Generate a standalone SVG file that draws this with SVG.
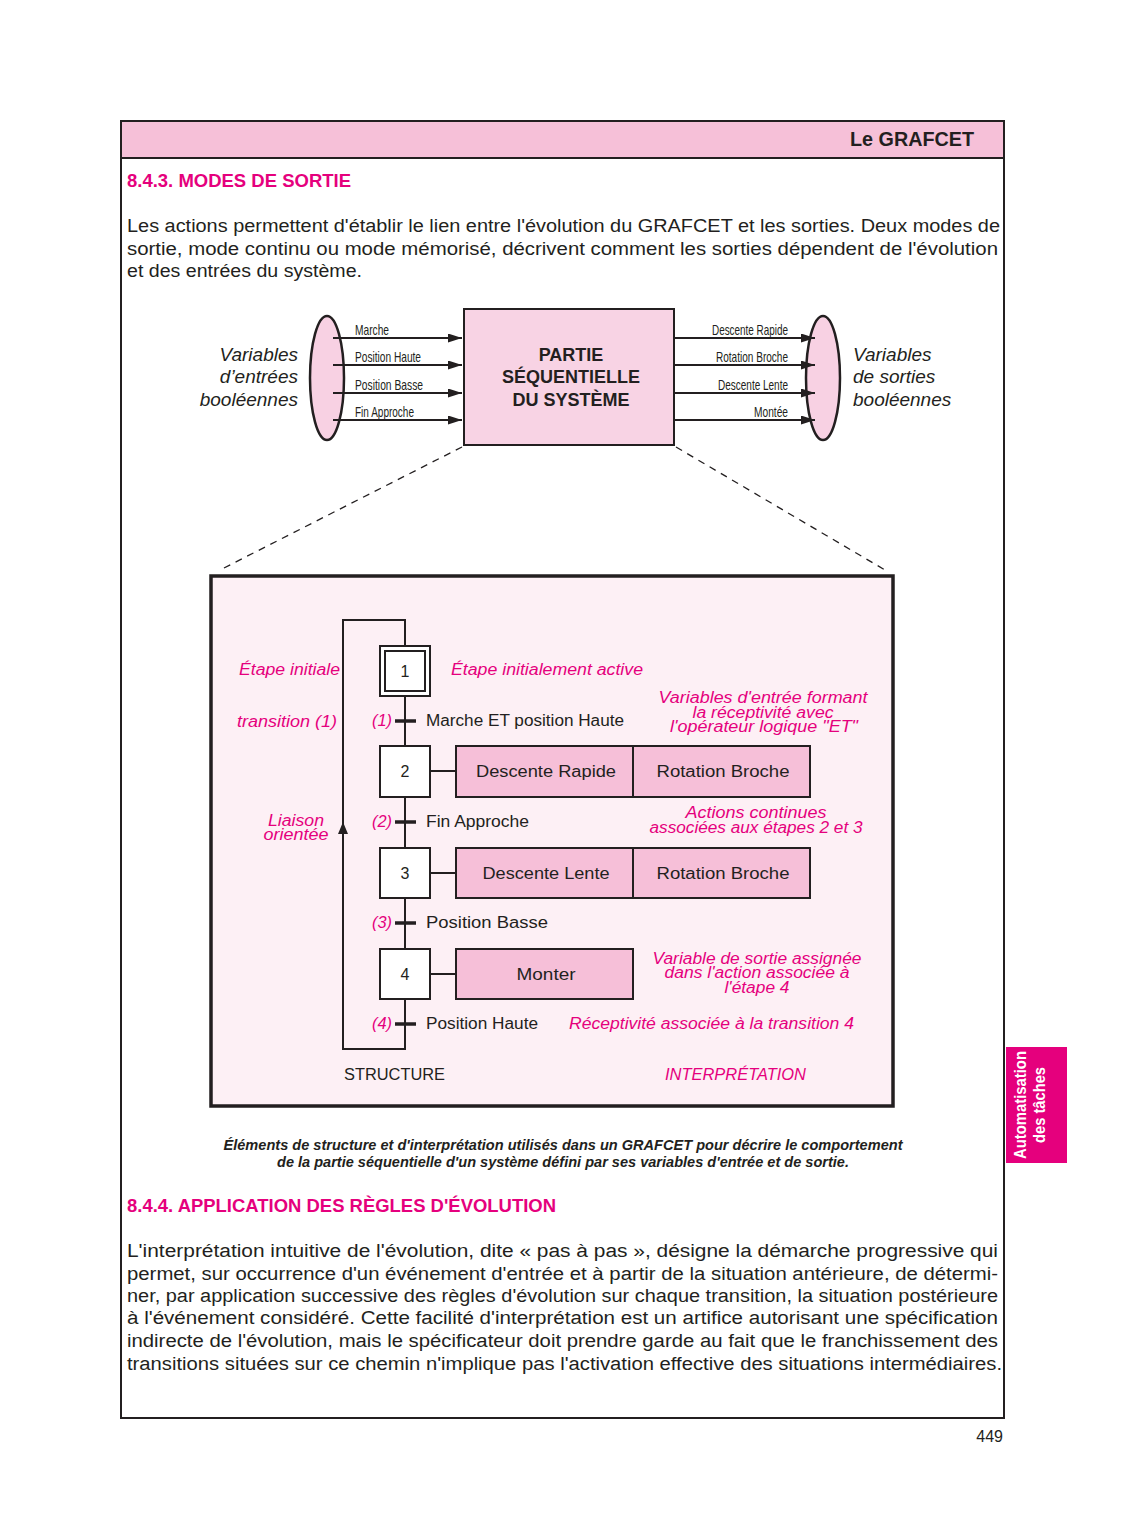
<svg xmlns="http://www.w3.org/2000/svg" width="1125" height="1539" viewBox="0 0 1125 1539">
<style>
text{font-family:"Liberation Sans",Arial,sans-serif;fill:#231f20}
.body{font-size:18px}
.mag{fill:#e5007d}
.h{font-weight:bold;font-size:18px;fill:#e5007d}
.it{font-style:italic}
.cond{font-size:14.5px}
.g{font-size:16px}
.gi{font-size:16px;font-style:italic;fill:#e5007d}
.step{fill:#fff;stroke:#231f20;stroke-width:2}
.act{fill:#f6bfd8;stroke:#231f20;stroke-width:2}
.ln{stroke:#231f20;stroke-width:2;fill:none}
.tr{stroke:#231f20;stroke-width:3.5}
.arr{stroke:#231f20;stroke-width:2;marker-end:url(#ah)}
</style>
<defs>
<marker id="ah" markerWidth="14" markerHeight="9" refX="14" refY="4.5" orient="auto" markerUnits="userSpaceOnUse">
<path d="M0,0 L14,4.5 L0,9 z" fill="#231f20"/>
</marker>
</defs>
<rect width="1125" height="1539" fill="#fff"/>
<!-- page frame -->
<g id="page">
<rect x="121" y="121" width="883" height="37" fill="#f6c0d8"/>
<rect x="121" y="121" width="883" height="1297" fill="none" stroke="#231f20" stroke-width="2"/>
<line x1="121" y1="158" x2="1004" y2="158" stroke="#231f20" stroke-width="2"/>
<text x="974" y="146" text-anchor="end" font-weight="bold" font-size="20" textLength="124" lengthAdjust="spacingAndGlyphs">Le GRAFCET</text>
<text class="h" x="127" y="187" textLength="224" lengthAdjust="spacingAndGlyphs">8.4.3. MODES DE SORTIE</text>
<text class="body" x="127" y="232" textLength="873" lengthAdjust="spacingAndGlyphs">Les actions permettent d'établir le lien entre l'évolution du GRAFCET et les sorties. Deux modes de</text>
<text class="body" x="127" y="255" textLength="871" lengthAdjust="spacingAndGlyphs">sortie, mode continu ou mode mémorisé, décrivent comment les sorties dépendent de l'évolution</text>
<text class="body" x="127" y="277" textLength="235" lengthAdjust="spacingAndGlyphs">et des entrées du système.</text>
</g>
<!-- top block diagram -->
<g id="inputs">
<ellipse cx="327" cy="378" rx="17" ry="62" fill="#f8d1e3" stroke="#231f20" stroke-width="2.5"/>
<text class="it" x="298" y="361" text-anchor="end" font-size="19">Variables</text>
<text class="it" x="298" y="383" text-anchor="end" font-size="19">d’entrées</text>
<text class="it" x="298" y="406" text-anchor="end" font-size="19">booléennes</text>
</g>
<g id="outputs">
<ellipse cx="823" cy="378" rx="17" ry="62" fill="#f8d1e3" stroke="#231f20" stroke-width="2.5"/>
<text class="it" x="853" y="361" font-size="19">Variables</text>
<text class="it" x="853" y="383" font-size="19">de sorties</text>
<text class="it" x="853" y="406" font-size="19">booléennes</text>
</g>
<g id="partie">
<rect x="464" y="309" width="210" height="136" fill="#f8d3e4" stroke="#231f20" stroke-width="2"/>
<text x="571" y="361" text-anchor="middle" font-weight="bold" font-size="18">PARTIE</text>
<text x="571" y="383" text-anchor="middle" font-weight="bold" font-size="18">SÉQUENTIELLE</text>
<text x="571" y="406" text-anchor="middle" font-weight="bold" font-size="18">DU SYSTÈME</text>
</g>
<g id="io-connectors">
<line class="arr" x1="333" y1="338" x2="462" y2="338"/>
<line class="arr" x1="333" y1="365" x2="462" y2="365"/>
<line class="arr" x1="333" y1="393" x2="462" y2="393"/>
<line class="arr" x1="333" y1="420" x2="462" y2="420"/>
<line class="arr" x1="675" y1="338" x2="815" y2="338"/>
<line class="arr" x1="675" y1="365" x2="815" y2="365"/>
<line class="arr" x1="675" y1="393" x2="815" y2="393"/>
<line class="arr" x1="675" y1="420" x2="815" y2="420"/>
<text class="cond" x="355" y="335" textLength="34" lengthAdjust="spacingAndGlyphs">Marche</text>
<text class="cond" x="355" y="362" textLength="66" lengthAdjust="spacingAndGlyphs">Position Haute</text>
<text class="cond" x="355" y="390" textLength="68" lengthAdjust="spacingAndGlyphs">Position Basse</text>
<text class="cond" x="355" y="417" textLength="59" lengthAdjust="spacingAndGlyphs">Fin Approche</text>
<text class="cond" x="712" y="335" textLength="76" lengthAdjust="spacingAndGlyphs">Descente Rapide</text>
<text class="cond" x="716" y="362" textLength="72" lengthAdjust="spacingAndGlyphs">Rotation Broche</text>
<text class="cond" x="718" y="390" textLength="70" lengthAdjust="spacingAndGlyphs">Descente Lente</text>
<text class="cond" x="754" y="417" textLength="34" lengthAdjust="spacingAndGlyphs">Montée</text>
<line x1="462" y1="447" x2="220" y2="570" stroke="#231f20" stroke-width="1.3" stroke-dasharray="7,6"/>
<line x1="676" y1="447" x2="885" y2="570" stroke="#231f20" stroke-width="1.3" stroke-dasharray="7,6"/>
</g>
<!-- GRAFCET box -->
<g id="grafcet-frame">
<rect x="211" y="576" width="682" height="530" fill="#fdf0f5" stroke="#231f20" stroke-width="3.5"/>
</g>
<g id="grafcet-connectors">
<polyline class="ln" points="405,646 405,620 343,620 343,1049 405,1049 405,999"/>
<path d="M338,834 L343,822 L348,834 z" fill="#231f20"/>
<line class="ln" x1="405" y1="696" x2="405" y2="746"/>
<line class="ln" x1="405" y1="797" x2="405" y2="848"/>
<line class="ln" x1="405" y1="898" x2="405" y2="949"/>
<line class="ln" x1="430" y1="771" x2="456" y2="771"/>
<line class="ln" x1="430" y1="873" x2="456" y2="873"/>
<line class="ln" x1="430" y1="974" x2="456" y2="974"/>
<line class="tr" x1="395" y1="721" x2="416" y2="721"/>
<line class="tr" x1="395" y1="822" x2="416" y2="822"/>
<line class="tr" x1="395" y1="923" x2="416" y2="923"/>
<line class="tr" x1="395" y1="1024" x2="416" y2="1024"/>
</g>
<g id="step1">
<rect class="step" x="380" y="646" width="50" height="50"/>
<rect class="step" x="385" y="651" width="40" height="40"/>
<text class="g" x="405" y="677" text-anchor="middle">1</text>
</g>
<g id="step2">
<rect class="step" x="380" y="746" width="50" height="51"/>
<text class="g" x="405" y="777" text-anchor="middle">2</text>
</g>
<g id="step3">
<rect class="step" x="380" y="848" width="50" height="50"/>
<text class="g" x="405" y="879" text-anchor="middle">3</text>
</g>
<g id="step4">
<rect class="step" x="380" y="949" width="50" height="50"/>
<text class="g" x="405" y="980" text-anchor="middle">4</text>
</g>
<g id="actions">
<rect class="act" x="456" y="746" width="177" height="51"/>
<rect class="act" x="633" y="746" width="177" height="51"/>
<rect class="act" x="456" y="848" width="177" height="50"/>
<rect class="act" x="633" y="848" width="177" height="50"/>
<rect class="act" x="456" y="949" width="177" height="50"/>
<text class="g" x="546" y="777" text-anchor="middle" textLength="140" lengthAdjust="spacingAndGlyphs">Descente Rapide</text>
<text class="g" x="723" y="777" text-anchor="middle" textLength="133" lengthAdjust="spacingAndGlyphs">Rotation Broche</text>
<text class="g" x="546" y="879" text-anchor="middle" textLength="127" lengthAdjust="spacingAndGlyphs">Descente Lente</text>
<text class="g" x="723" y="879" text-anchor="middle" textLength="133" lengthAdjust="spacingAndGlyphs">Rotation Broche</text>
<text class="g" x="546" y="980" text-anchor="middle" textLength="59" lengthAdjust="spacingAndGlyphs">Monter</text>
</g>
<g id="transitions">
<text class="gi" x="372" y="726" textLength="20" lengthAdjust="spacingAndGlyphs">(1)</text>
<text class="gi" x="372" y="827" textLength="20" lengthAdjust="spacingAndGlyphs">(2)</text>
<text class="gi" x="372" y="928" textLength="20" lengthAdjust="spacingAndGlyphs">(3)</text>
<text class="gi" x="372" y="1029" textLength="20" lengthAdjust="spacingAndGlyphs">(4)</text>
<text class="g" x="426" y="726" textLength="198" lengthAdjust="spacingAndGlyphs">Marche ET position Haute</text>
<text class="g" x="426" y="827" textLength="103" lengthAdjust="spacingAndGlyphs">Fin Approche</text>
<text class="g" x="426" y="928" textLength="122" lengthAdjust="spacingAndGlyphs">Position Basse</text>
<text class="g" x="426" y="1029" textLength="112" lengthAdjust="spacingAndGlyphs">Position Haute</text>
</g>
<g id="annotations">
<text class="gi" x="239" y="675" textLength="101" lengthAdjust="spacingAndGlyphs">Étape initiale</text>
<text class="gi" x="237" y="727" textLength="100" lengthAdjust="spacingAndGlyphs">transition (1)</text>
<text class="gi" x="296" y="826" text-anchor="middle" textLength="56" lengthAdjust="spacingAndGlyphs">Liaison</text>
<text class="gi" x="296" y="840" text-anchor="middle" textLength="65" lengthAdjust="spacingAndGlyphs">orientée</text>
<text class="gi" x="451" y="675" textLength="192" lengthAdjust="spacingAndGlyphs">Étape initialement active</text>
<text class="gi" x="763" y="703" text-anchor="middle" textLength="209" lengthAdjust="spacingAndGlyphs">Variables d'entrée formant</text>
<text class="gi" x="763" y="718" text-anchor="middle" textLength="141" lengthAdjust="spacingAndGlyphs">la réceptivité avec</text>
<text class="gi" x="764" y="732" text-anchor="middle" textLength="188" lengthAdjust="spacingAndGlyphs">l'opérateur logique "ET"</text>
<text class="gi" x="756" y="818" text-anchor="middle" textLength="141" lengthAdjust="spacingAndGlyphs">Actions continues</text>
<text class="gi" x="756" y="833" text-anchor="middle" textLength="213" lengthAdjust="spacingAndGlyphs">associées aux étapes 2 et 3</text>
<text class="gi" x="757" y="964" text-anchor="middle" textLength="209" lengthAdjust="spacingAndGlyphs">Variable de sortie assignée</text>
<text class="gi" x="757" y="978" text-anchor="middle" textLength="185" lengthAdjust="spacingAndGlyphs">dans l'action associée à</text>
<text class="gi" x="757" y="993" text-anchor="middle" textLength="65" lengthAdjust="spacingAndGlyphs">l'étape 4</text>
<text class="gi" x="569" y="1029" textLength="285" lengthAdjust="spacingAndGlyphs">Réceptivité associée à la transition 4</text>
<text class="g" x="344" y="1080" textLength="101" lengthAdjust="spacingAndGlyphs">STRUCTURE</text>
<text class="gi" x="665" y="1080" textLength="141" lengthAdjust="spacingAndGlyphs">INTERPRÉTATION</text>
</g>
<!-- caption and second section -->
<g id="caption">
<text x="563" y="1150" text-anchor="middle" font-size="14" font-weight="bold" font-style="italic" textLength="679" lengthAdjust="spacingAndGlyphs">Éléments de structure et d'interprétation utilisés dans un GRAFCET pour décrire le comportement</text>
<text x="563" y="1167" text-anchor="middle" font-size="14" font-weight="bold" font-style="italic" textLength="572" lengthAdjust="spacingAndGlyphs">de la partie séquentielle d'un système défini par ses variables d'entrée et de sortie.</text>
</g>
<g id="section2">
<text class="h" x="127" y="1212" textLength="429" lengthAdjust="spacingAndGlyphs">8.4.4. APPLICATION DES RÈGLES D'ÉVOLUTION</text>
<text class="body" x="127" y="1257" textLength="871" lengthAdjust="spacingAndGlyphs">L'interprétation intuitive de l'évolution, dite « pas à pas », désigne la démarche progressive qui</text>
<text class="body" x="127" y="1280" textLength="871" lengthAdjust="spacingAndGlyphs">permet, sur occurrence d'un événement d'entrée et à partir de la situation antérieure, de détermi-</text>
<text class="body" x="127" y="1302" textLength="871" lengthAdjust="spacingAndGlyphs">ner, par application successive des règles d'évolution sur chaque transition, la situation postérieure</text>
<text class="body" x="127" y="1324" textLength="871" lengthAdjust="spacingAndGlyphs">à l'événement considéré. Cette facilité d'interprétation est un artifice autorisant une spécification</text>
<text class="body" x="127" y="1347" textLength="871" lengthAdjust="spacingAndGlyphs">indirecte de l'évolution, mais le spécificateur doit prendre garde au fait que le franchissement des</text>
<text class="body" x="127" y="1370" textLength="875" lengthAdjust="spacingAndGlyphs">transitions situées sur ce chemin n'implique pas l'activation effective des situations intermédiaires.</text>
</g>
<g id="side-tab">
<rect x="1006" y="1047" width="61" height="116" fill="#e5007d"/>
<text transform="translate(1026,1105) rotate(-90)" text-anchor="middle" font-size="16" font-weight="bold" style="fill:#fff" textLength="108" lengthAdjust="spacingAndGlyphs">Automatisation</text>
<text transform="translate(1045,1105) rotate(-90)" text-anchor="middle" font-size="16" font-weight="bold" style="fill:#fff" textLength="76" lengthAdjust="spacingAndGlyphs">des tâches</text>
</g>
<text x="1003" y="1442" text-anchor="end" font-size="16">449</text>
</svg>
